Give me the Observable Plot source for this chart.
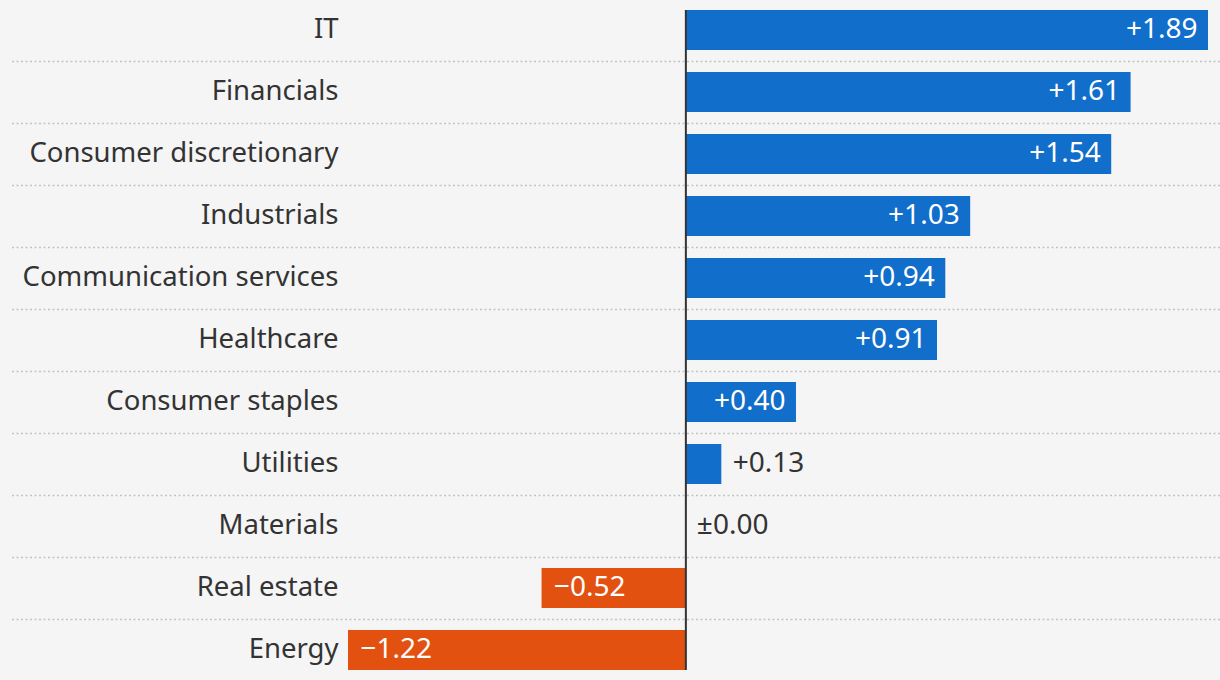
<!DOCTYPE html>
<html>
<head>
<meta charset="utf-8">
<script src="https://cdn.jsdelivr.net/npm/d3@7"></script>
<script src="https://cdn.jsdelivr.net/npm/@observablehq/plot@0.6"></script>
<style>
  html, body { margin: 0; padding: 0; background: #f5f5f5; }
  #chart svg { display: block; }
</style>
</head>
<body>
<div id="chart"></div>
<script>
const sectors = ["IT", "Financials", "Consumer discretionary", "Industrials", "Communication services", "Healthcare", "Consumer staples", "Utilities", "Materials", "Real estate", "Energy"];
const changes = [1.89, 1.61, 1.54, 1.03, 0.94, 0.91, 0.40, 0.13, 0.00, -0.52, -1.22];

const data = sectors.map((s, i) => ({sector: s, value: changes[i]}));
const fmt = v => v > 0 ? "+" + v.toFixed(2) : v < 0 ? "\u2212" + Math.abs(v).toFixed(2) : "\u00b10.00";
const inside = d => Math.abs(d.value) >= 0.3;

const BLUE = "#116ecb", ORANGE = "#e35111", INK = "#333333";
const font = "'Noto Sans', sans-serif";

const chart = Plot.plot({
  width: 1220,
  height: 680,
  marginLeft: 348,
  marginRight: 12,
  marginTop: 0,
  marginBottom: 0,
  style: {background: "#f5f5f5", fontFamily: font, color: INK},
  x: {domain: [d3.min(changes), d3.max(changes)], axis: null},
  y: {domain: sectors, paddingInner: 22/62, paddingOuter: 10/62, axis: null},
  marks: [
    Plot.ruleY(sectors.slice(0, -1), {y: d => d, dy: 31, stroke: "#c4c4c4", strokeWidth: 1.5, strokeDasharray: "2 2.5", insetLeft: -336, insetRight: -12}),
    Plot.barX(data, {x: "value", y: "sector", fill: d => d.value >= 0 ? BLUE : ORANGE}),
    Plot.ruleX([0], {stroke: INK, strokeWidth: 2, insetTop: 10, insetBottom: 10}),
    Plot.axisY({tickSize: 0, tickPadding: 10, fontSize: 27.5, dy: -1.5, label: null, fill: INK}),
    Plot.text(data.filter(d => inside(d) && d.value > 0), {x: "value", y: "sector", text: d => fmt(d.value), textAnchor: "end", dx: -11, dy: -1.5, fill: "white", fontSize: 28}),
    Plot.text(data.filter(d => inside(d) && d.value < 0), {x: "value", y: "sector", text: d => fmt(d.value), textAnchor: "start", dx: 12, dy: -1.5, fill: "white", fontSize: 28}),
    Plot.text(data.filter(d => !inside(d)), {x: "value", y: "sector", text: d => fmt(d.value), textAnchor: "start", dx: 11, dy: -1.5, fill: INK, fontSize: 28})
  ]
});
document.getElementById("chart").appendChild(chart);
</script>
</body>
</html>
